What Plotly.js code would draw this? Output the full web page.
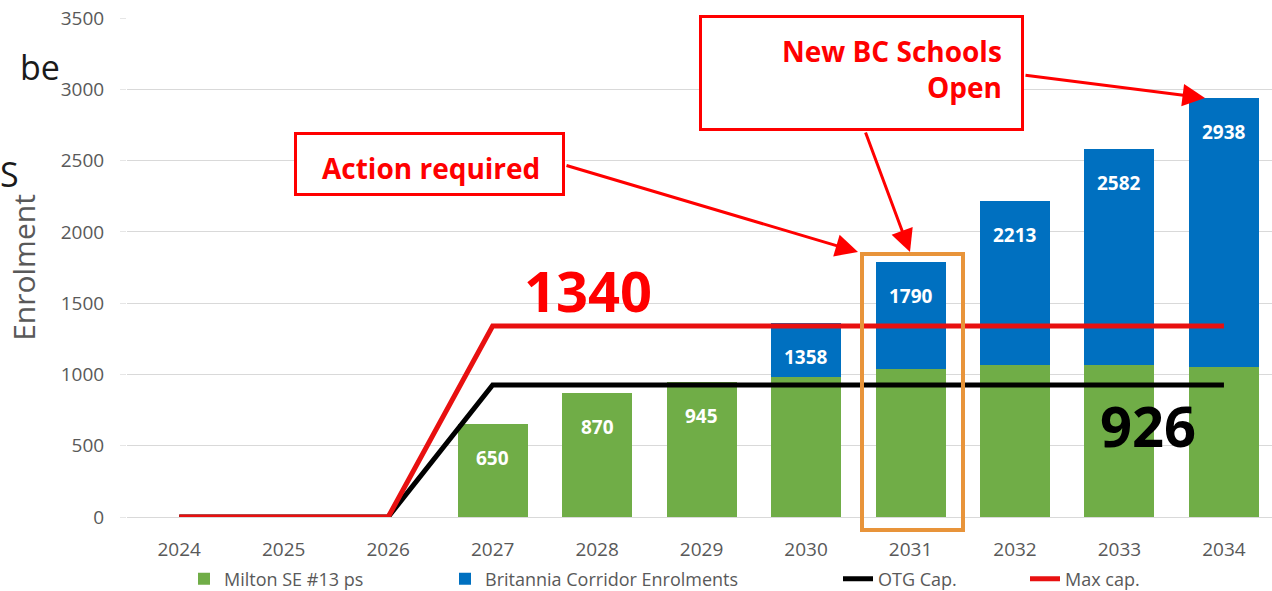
<!DOCTYPE html>
<html>
<head>
<meta charset="utf-8">
<script src="https://cdn.plot.ly/plotly-3.0.1.min.js"></script>
<style>html,body{margin:0;padding:0;background:#fff;}#chart{width:1272px;height:591px;}</style>
</head>
<body>
<div id="chart"></div>
<script>
// ---- data ----
const years = ['2024','2025','2026','2027','2028','2029','2030','2031','2032','2033','2034'];
const miltonSE13 = [0, 0, 0, 650, 870, 945, 985, 1035, 1065, 1065, 1055];
const britannia  = [0, 0, 0, 0, 0, 0, 373, 755, 1148, 1517, 1883];
const totalLabels = [null, null, null, 650, 870, 945, 1358, 1790, 2213, 2582, 2938];
const otgCap = [0, 0, 0, 926, 926, 926, 926, 926, 926, 926, 926];
const maxCap = [0, 0, 0, 1340, 1340, 1340, 1340, 1340, 1340, 1340, 1340];
const seriesNames = ['Milton SE #13 ps', 'Britannia Corridor Enrolments', 'OTG Cap.', 'Max cap.'];

// ---- layout helpers (pixel -> paper) ----
const W = 1272, H = 591;
const L = 127, R = 0, T = 18, B = 74;
const PW = W - L - R, PH = H - T - B;
const px = x => (x - L) / PW;
const py = y => (H - B - y) / PH;

const FONT = '"Open Sans", "DejaVu Sans", sans-serif';
const GREY = '#595959';
const RED = '#FF0000';

const traces = [
  {type:'bar', name: seriesNames[0], x: years, y: miltonSE13, marker:{color:'#70AD47'}, width:0.67, legend:'legend'},
  {type:'bar', name: seriesNames[1], x: years, y: britannia, marker:{color:'#0070C0'}, width:0.67, legend:'legend2'},
  {type:'scatter', mode:'lines', name: seriesNames[2], x: years, y: otgCap, line:{color:'#000000', width:5}, legend:'legend3'},
  {type:'scatter', mode:'lines', name: seriesNames[3], x: years, y: maxCap, line:{color:'#E81010', width:5}, legend:'legend4'}
];

const annotations = [];
// bar value labels (totals), placed inside the top of each stacked bar
years.forEach((yr, i) => {
  if (totalLabels[i] != null) {
    annotations.push({x: i, y: totalLabels[i], xref:'x', yref:'y', text: String(totalLabels[i]),
      xanchor:'center', yanchor:'middle',
      showarrow:false, yshift:-34, font:{family:FONT, size:19, color:'#ffffff', weight:700}});
  }
});
// big numbers
annotations.push({xref:'paper', yref:'paper', x: px(588), y: py(290), xanchor:'center', yanchor:'middle',
  text:'1340', showarrow:false, font:{family:FONT, size:56, color:RED, weight:700}});
annotations.push({xref:'paper', yref:'paper', x: px(1148), y: py(425), xanchor:'center', yanchor:'middle',
  text:'926', showarrow:false, font:{family:FONT, size:56, color:'#000000', weight:700}});
// arrows
const arrows = [
  [565, 165, 858, 252],
  [865, 131, 910, 252],
  [1024, 75, 1205, 98]
];
arrows.forEach(a => {
  annotations.push({xref:'paper', yref:'paper', x: px(a[2]), y: py(a[3]), ax: a[0]-a[2], ay: a[1]-a[3],
    axref:'pixel', ayref:'pixel', text:'', showarrow:true, arrowhead:2, arrowsize:1.5, arrowwidth:3, arrowcolor:RED});
});
// call-out texts
annotations.push({xref:'paper', yref:'paper', x: px(431), y: py(168), xanchor:'center', yanchor:'middle',
  text:'Action required', showarrow:false, font:{family:FONT, size:28, color:RED, weight:700}});
annotations.push({xref:'paper', yref:'paper', x: px(1004), y: py(69), xanchor:'right', yanchor:'middle',
  text:'New BC Schools<br>Open', showarrow:false, align:'right',
  font:{family:FONT, size:28, color:RED, weight:700}});
// left clipped slide text
annotations.push({xref:'paper', yref:'paper', x: px(18), y: py(67), xanchor:'left', yanchor:'middle', text:'be', showarrow:false,
  font:{family:FONT, size:34, color:'#1a1a1a'}});
annotations.push({xref:'paper', yref:'paper', x: px(-2), y: py(174), xanchor:'left', yanchor:'middle', text:'S', showarrow:false,
  font:{family:FONT, size:34, color:'#1a1a1a'}});

const shapes = [
  {type:'rect', xref:'paper', yref:'paper', layer:'above', x0: px(295.5), x1: px(563.5), y0: py(194.5), y1: py(133.5),
   line:{color:RED, width:3}, fillcolor:'#ffffff'},
  {type:'rect', xref:'paper', yref:'paper', layer:'above', x0: px(700.5), x1: px(1022.5), y0: py(129.5), y1: py(16.5),
   line:{color:RED, width:3}, fillcolor:'#ffffff'},
  {type:'rect', xref:'paper', yref:'paper', layer:'above', x0: px(862), x1: px(963), y0: py(530), y1: py(254),
   line:{color:'#E8943A', width:4}, fillcolor:'rgba(0,0,0,0)'}
];

const legFont = {family:FONT, size:18, color:GREY};
const mkLeg = x => ({orientation:'h', x: px(x), y: py(579), xanchor:'left', yanchor:'middle', font:legFont,
  bgcolor:'rgba(0,0,0,0)', borderwidth:0});

const layout = {
  width: W, height: H,
  margin: {l:L, r:R, t:T, b:B, autoexpand:false},
  paper_bgcolor:'#ffffff', plot_bgcolor:'#ffffff',
  barmode:'stack',
  font:{family:FONT, color:GREY},
  showlegend:true,
  legend: mkLeg(184),
  legend2: mkLeg(445),
  legend3: mkLeg(838),
  legend4: mkLeg(1025),
  xaxis:{type:'category', range:[-0.5, 10.46], showgrid:false, zeroline:false, showline:false,
    tickfont:{family:FONT, size:19, color:GREY}, ticks:'', ticklabelstandoff:19, fixedrange:true},
  yaxis:{range:[0,3500], dtick:500, gridcolor:'#D9D9D9', gridwidth:1, zeroline:true, zerolinecolor:'#D9D9D9',
    tickfont:{family:FONT, size:19, color:GREY}, ticks:'outside', ticklen:6, tickcolor:'#E6E6E6', ticklabelstandoff:12,
    title:{text:'Enrolment', font:{family:FONT, size:30, color:GREY}, standoff:16}, automargin:false, fixedrange:true},
  annotations: annotations,
  shapes: shapes
};

Plotly.newPlot('chart', traces, layout, {displayModeBar:false, staticPlot:true});
</script>
</body>
</html>
